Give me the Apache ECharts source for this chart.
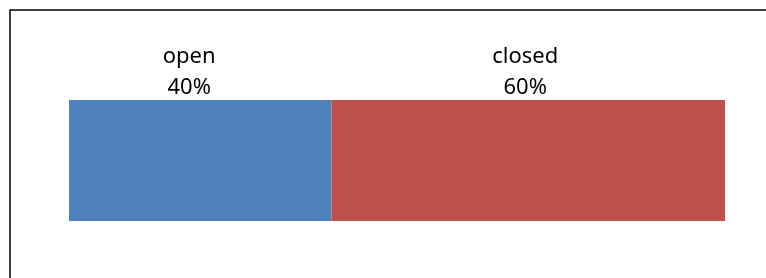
<!DOCTYPE html>
<html>
<head>
<meta charset="utf-8">
<script src="https://cdn.jsdelivr.net/npm/echarts@6/dist/echarts.min.js"></script>
<style>
  html, body { margin: 0; padding: 0; background: #fff; }
  #chart { width: 766px; height: 278px; }
</style>
</head>
<body>
<div id="chart"></div>
<script>
const statusNames = ['open', 'closed']
const statusShares = [40, 60]
const statusColors = ['#4F81BD', '#C0504D']
// small horizontal nudge so labels sit like the original
const labelNudge = [-11, -3]

const chart = echarts.init(document.getElementById('chart'))

const series = statusNames.map((name, i) => ({
  name: name,
  type: 'bar',
  stack: 'all',
  barWidth: 121,
  data: [statusShares[i]],
  itemStyle: { color: statusColors[i] },
  label: {
    show: true,
    position: 'top',
    distance: -3,
    offset: [labelNudge[i], 0],
    formatter: '{a}\n{c}%',
    color: '#000',
    fontFamily: 'Noto Sans',
    fontSize: 22,
    lineHeight: 31
  }
}))

chart.setOption({
  animation: false,
  grid: { left: 69, right: 41, top: 100, bottom: 57 },
  xAxis: { type: 'value', min: 0, max: 100, show: false },
  yAxis: { type: 'category', data: ['status'], show: false },
  graphic: [{
    type: 'rect',
    shape: { x: 10, y: 10, width: 800, height: 320 },
    style: { fill: 'none', stroke: '#000', lineWidth: 1.5 },
    silent: true
  }],
  series: series
})
</script>
</body>
</html>
